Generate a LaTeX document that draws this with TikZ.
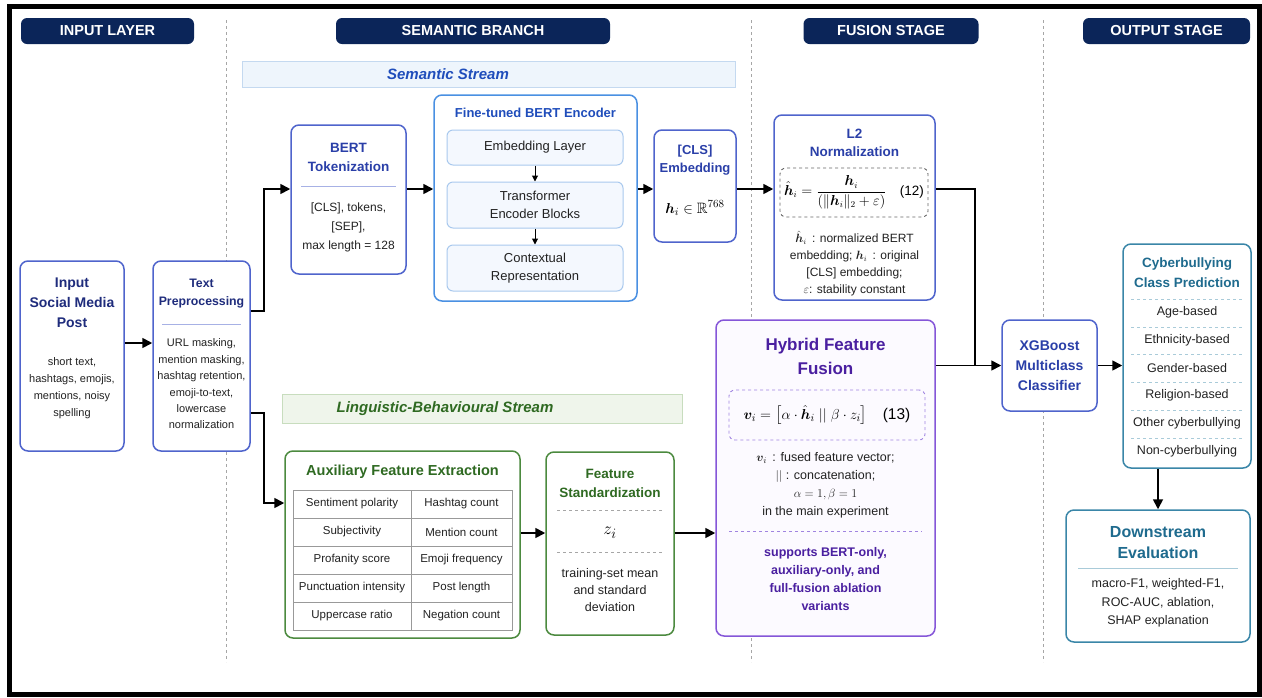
\documentclass[tikz,border=0pt]{standalone}
\usepackage{amsmath,amssymb,bm}
\usepackage{fontspec}
\setmainfont{Liberation Sans}
\usetikzlibrary{arrows.meta,positioning}

\definecolor{navy}{HTML}{0B2559}
\definecolor{bluebd}{HTML}{4F64CC}
\definecolor{bluetx}{HTML}{2A3FA8}
\definecolor{inktx}{HTML}{1F2C7C}
\definecolor{skybd}{HTML}{4A90E2}
\definecolor{skyin}{HTML}{A9C9EE}
\definecolor{skyfill}{HTML}{F4F8FE}
\definecolor{skytx}{HTML}{1F4DBB}
\definecolor{bannerB}{HTML}{EEF5FC}
\definecolor{bannerBd}{HTML}{C4D9F0}
\definecolor{greenbd}{HTML}{4C8A3F}
\definecolor{greentx}{HTML}{2F6A22}
\definecolor{bannerG}{HTML}{EFF5EB}
\definecolor{bannerGd}{HTML}{C8DDBE}
\definecolor{purpbd}{HTML}{8556D8}
\definecolor{purptx}{HTML}{4A1FA0}
\definecolor{purpfill}{HTML}{FCFAFF}
\definecolor{purpdash}{HTML}{A084E0}
\definecolor{tealbd}{HTML}{3A86A8}
\definecolor{tealtx}{HTML}{1F6B8E}
\definecolor{tealsep}{HTML}{A9CBD9}
\definecolor{bodytx}{HTML}{222222}

\tikzset{
  hdr/.style={fill=navy, rounded corners=6pt, minimum height=26, inner sep=0pt,
    text=white, font=\bfseries\fontsize{14.5}{16}\selectfont},
  box/.style={draw=bluebd, line width=1.5pt, rounded corners=8pt, fill=white, inner sep=0pt},
  skybox/.style={box, draw=skybd},
  layerbox/.style={draw=skyin, line width=1pt, rounded corners=6pt, fill=skyfill, inner sep=0pt,
    minimum width=176, align=center, text=bodytx, font=\fontsize{13}{18}\selectfont},
  greenbox/.style={box, draw=greenbd},
  purpbox/.style={box, draw=purpbd, fill=purpfill},
  tealbox/.style={box, draw=tealbd},
  ttl/.style={align=center, text=bluetx, font=\bfseries\fontsize{13.5}{19}\selectfont},
  body/.style={align=center, text=bodytx, font=\fontsize{11}{17}\selectfont},
  cell/.style={text=bodytx, font=\fontsize{11.5}{14}\selectfont},
  arr/.style={-{Triangle[length=10pt,width=10pt]}, line width=1.7pt},
  smallarr/.style={-{Triangle[length=6pt,width=6pt]}, line width=1pt},
  divline/.style={draw=gray!70, dashed, line width=0.8pt},
  dsep/.style={dashed, line width=0.8pt},
}

\begin{document}
\begin{tikzpicture}[x=1pt,y=-1pt]
\useasboundingbox (0,0) rectangle (1262,697);
\draw[line width=5pt] (9,6) rectangle (1259.5,694.5);

% stage dividers and headers
\foreach \x in {226,751,1043} \draw[divline] (\x,20) -- (\x,662);
\node[hdr, minimum width=173] (hInput) at (107.5,31) {INPUT LAYER};
\node[hdr, minimum width=274] (hSem) at (473,31) {SEMANTIC BRANCH};
\node[hdr, minimum width=175] (hFus) at (891,31) {FUSION STAGE};
\node[hdr, minimum width=167] (hOut) at (1166.5,31) {OUTPUT STAGE};

% stream banners
\node[draw=bannerBd, fill=bannerB, minimum width=493, minimum height=26, inner sep=0pt] (semBan) at (488.5,74) {};
\node[text=skytx, font=\bfseries\itshape\fontsize{15}{17}\selectfont] (semLbl) at (448,74) {Semantic Stream};
\node[draw=bannerGd, fill=bannerG, minimum width=400, minimum height=29, inner sep=0pt] (lingBan) at (482,408.5) {};
\node[text=greentx, font=\bfseries\itshape\fontsize{15}{17}\selectfont] (lingLbl) at (445,408.5) {Linguistic-Behavioural Stream};

% input layer
\node[box, minimum width=104, minimum height=190] (input) at (72,356) {};
\node[ttl, text=inktx, font=\bfseries\fontsize{14}{20}\selectfont] (inputT) at (72,303) {Input\\Social Media\\Post};
\node[body] (inputB) at (72,388.5) {short text,\\hashtags, emojis,\\mentions, noisy\\spelling};

\node[box, minimum width=97, minimum height=190] (prep) at (201.5,356) {};
\node[ttl, text=inktx, font=\bfseries\fontsize{12.3}{18}\selectfont] (prepT) at (201.5,294) {Text\\Preprocessing};
\draw[bluebd!50, line width=1pt] (162,324) -- (241,324);
\node[body, font=\fontsize{11}{16.4}\selectfont] (prepB) at (201.5,384) {URL masking,\\mention masking,\\hashtag retention,\\emoji-to-text,\\lowercase\\normalization};

% semantic stream
\node[box, minimum width=115, minimum height=149] (tok) at (348.5,199.5) {};
\node[ttl] (tokT) at (348.5,157.5) {BERT\\Tokenization};
\draw[bluebd!50, line width=1pt] (301,186) -- (396,186);
\node[body, font=\fontsize{12}{19}\selectfont] (tokB) at (348.5,227) {{[CLS]}, tokens,\\{[SEP]},\\max length = 128};

\node[skybox, minimum width=203, minimum height=206] (enc) at (535.5,198) {};
\node[ttl, text=skytx, font=\bfseries\fontsize{13}{15}\selectfont] (encT) at (535.5,113) {Fine-tuned BERT Encoder};
\node[layerbox, minimum height=35] (emb) at (535,147.5) {Embedding Layer};
\node[layerbox, minimum height=46] (trf) at (535,205) {Transformer\\Encoder Blocks};
\node[layerbox, minimum height=46] (ctx) at (535,268) {Contextual\\Representation};
\draw[smallarr] (emb) -- (trf);
\draw[smallarr] (trf) -- (ctx);

\node[box, minimum width=82, minimum height=112] (cls) at (695,186) {};
\node[ttl, font=\bfseries\fontsize{13}{18}\selectfont] (clsT) at (695,160) {{[CLS]}\\Embedding};
\node[font=\fontsize{15}{17}\selectfont] (clsM) at (695,208) {$\bm{h}_i \in \mathbb{R}^{768}$};

% linguistic-behavioural stream
\node[greenbox, minimum width=235, minimum height=187] (aux) at (402.5,544.5) {};
\node[ttl, text=greentx, font=\bfseries\fontsize{14.5}{17}\selectfont] (auxT) at (402.5,472) {Auxiliary Feature Extraction};
\draw[gray!80, line width=0.8pt] (293,490) rectangle (512,630);
\foreach \y in {518,546,574,602} \draw[gray!80, line width=0.8pt] (293,\y) -- (512,\y);
\draw[gray!80, line width=0.8pt] (411,490) -- (411,630);
\foreach \l/\r [count=\k] in {Sentiment polarity/Hashtag count, Subjectivity/Mention count,
    Profanity score/Emoji frequency, Punctuation intensity/Post length, Uppercase ratio/Negation count} {
  \node[cell] (featL\k) at (352,476+28*\k) {\l};
  \node[cell] (featR\k) at (461.5,476+28*\k) {\r};
}

\node[greenbox, minimum width=128, minimum height=183] (std) at (610,543.5) {};
\node[ttl, text=greentx, font=\bfseries\fontsize{13.5}{19}\selectfont] (stdT) at (610,483.5) {Feature\\Standardization};
\draw[gray!70, dsep] (557,510) -- (663,510);
\node[font=\fontsize{19}{20}\selectfont] (stdZ) at (610,533) {$z_i$};
\draw[gray!70, dsep] (557,552) -- (663,552);
\node[body, font=\fontsize{12.5}{17}\selectfont] (stdB) at (610,590) {training-set mean\\and standard\\deviation};

% fusion stage
\node[box, minimum width=161, minimum height=185] (l2) at (854.5,207.5) {};
\node[ttl, font=\bfseries\fontsize{13.5}{18}\selectfont] (l2T) at (854.5,143) {L2\\Normalization};
\node[draw=gray!80!black, dashed, rounded corners=6pt, line width=0.9pt, minimum width=148, minimum height=49,
  font=\fontsize{13.5}{15}\selectfont] (l2eq) at (854,192.5)
  {$\hat{\bm{h}}_i = \dfrac{\bm{h}_i}{(\|\bm{h}_i\|_2+\varepsilon)}$\quad (12)};
\node[body, font=\fontsize{12}{17}\selectfont] (l2B) at (854.5,263.5) {$\hat{\bm{h}}_i$\, : normalized BERT\\embedding; $\bm{h}_i$\, : original\\{[CLS]} embedding;\\$\varepsilon$: stability constant};

\node[purpbox, minimum width=219, minimum height=316] (fus) at (825.5,478) {};
\node[ttl, text=purptx, font=\bfseries\fontsize{17}{24}\selectfont] (fusT) at (825.5,356) {Hybrid Feature\\Fusion};
\node[draw=purpdash, dashed, rounded corners=6pt, line width=0.9pt, minimum width=196, minimum height=50,
  font=\fontsize{15.5}{17}\selectfont] (fuseq) at (827,415)
  {$\bm{v}_i = \bigl[\alpha\cdot\hat{\bm{h}}_i \;||\; \beta\cdot z_i\bigr]$\quad(13)};
\node[body, font=\fontsize{12.5}{18}\selectfont] (fusB) at (825.5,485.5) {$\bm{v}_i$\, : fused feature vector;\\$||$ : concatenation;\\$\alpha = 1, \beta = 1$\\in the main experiment};
\draw[purpdash, dsep] (729,531) -- (922,531);
\node[align=center, text=purptx, font=\bfseries\fontsize{12.5}{18}\selectfont] (fusN) at (825.5,579) {supports BERT-only,\\auxiliary-only, and\\full-fusion ablation\\variants};

% output stage
\node[box, ttl, font=\bfseries\fontsize{14}{20}\selectfont, minimum width=95, minimum height=91] (xgb) at (1049.5,365.5) {XGBoost\\Multiclass\\Classifier};

\node[tealbox, minimum width=128, minimum height=224] (cbp) at (1187,356) {};
\node[ttl, text=tealtx, font=\bfseries\fontsize{13.5}{20}\selectfont] (cbpT) at (1187,273) {Cyberbullying\\Class Prediction};
\foreach \c [count=\k] in {Age-based, Ethnicity-based, Gender-based, Religion-based, Other cyberbullying, Non-cyberbullying} {
  \pgfmathsetmacro\yy{284.4+27.8*\k}
  \draw[tealsep, dsep] (1131,\yy-13) -- (1243,\yy-13);
  \node[cell, font=\fontsize{12.5}{14}\selectfont] (cbpItem\k) at (1187,\yy) {\c};
}

\node[tealbox, minimum width=184, minimum height=132] (down) at (1158,576) {};
\node[ttl, text=tealtx, font=\bfseries\fontsize{16}{21}\selectfont] (downT) at (1158,542.5) {Downstream\\Evaluation};
\draw[tealsep, line width=1pt] (1078,568) -- (1238,568);
\node[body, font=\fontsize{12.5}{18.5}\selectfont] (downB) at (1158,603) {macro-F1, weighted-F1,\\ROC-AUC, ablation,\\SHAP explanation};

% connectors
\coordinate (inRow) at (0,343);
\coordinate (semRow) at (0,189);
\coordinate (upRow) at (0,311);
\coordinate (dnRow) at (0,413);
\coordinate (lingRow) at (0,533);
\coordinate (bendUp) at (264,189);
\coordinate (bendDn) at (264,503);
\coordinate (join) at (975,0);

\draw[arr] (input.east |- inRow) -- (prep.west |- inRow);
\draw[arr] (prep.east |- upRow) -| (bendUp) -- (tok.west |- bendUp);
\draw[arr] (prep.east |- dnRow) -| (bendDn) -- (aux.west |- bendDn);
\draw[arr] (tok.east |- semRow) -- (enc.west |- semRow);
\draw[arr] (enc.east |- semRow) -- (cls.west |- semRow);
\draw[arr] (cls.east |- semRow) -- (l2.west |- semRow);
\draw[arr] (aux.east |- lingRow) -- (std.west |- lingRow);
\draw[arr] (std.east |- lingRow) -- (fus.west |- lingRow);
\draw[line width=1.7pt] (l2.east |- semRow) -| (join |- xgb.west);
\draw[arr] (fus.east |- xgb.west) -- (xgb.west);
\draw[arr] (xgb.east) -- (xgb.east -| cbp.west);
\draw[arr] (cbp.south -| down.north) -- (down.north);
\end{tikzpicture}
\end{document}
